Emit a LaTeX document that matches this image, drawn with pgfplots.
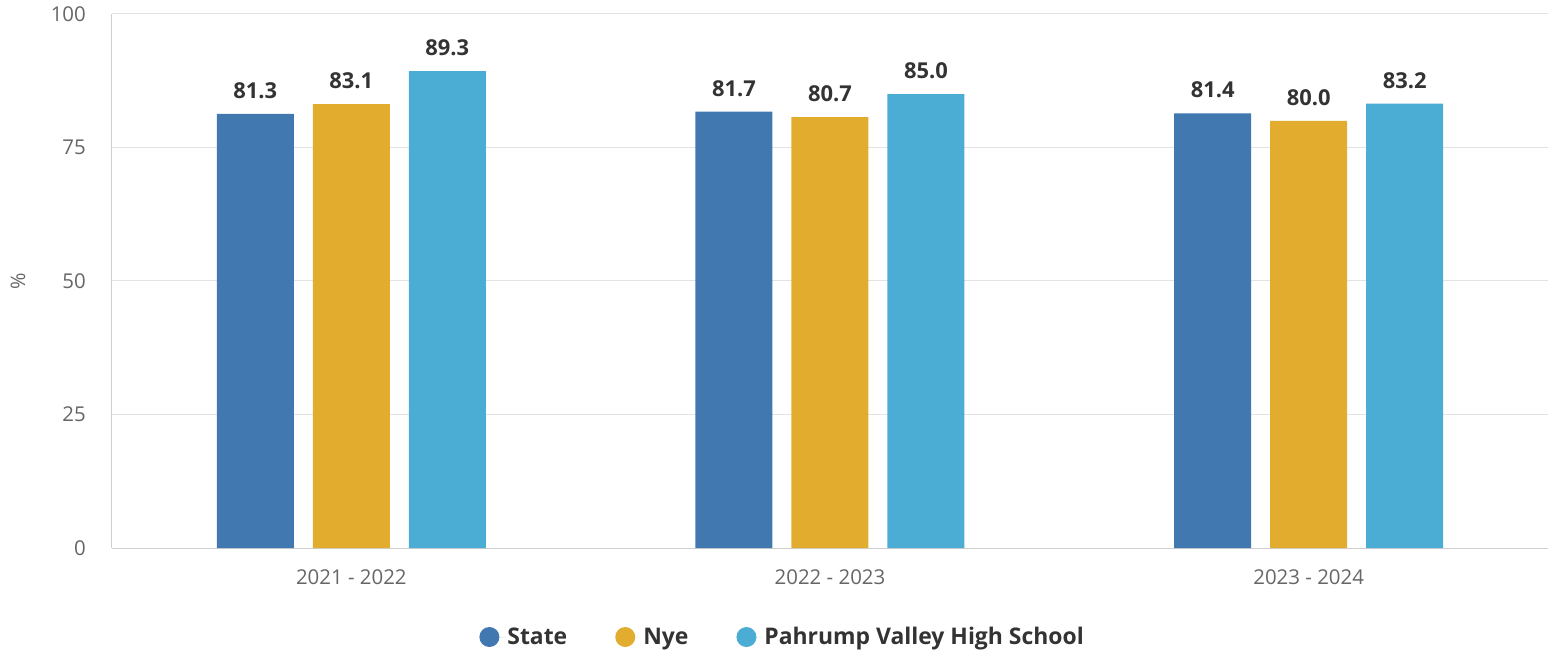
\documentclass[border=0pt]{standalone}
\usepackage{fontspec}
\setmainfont{Open Sans}
\usepackage{pgfplots}
\pgfplotsset{compat=1.18}
\definecolor{cState}{HTML}{4178B0}
\definecolor{cNye}{HTML}{E2AD2E}
\definecolor{cPVHS}{HTML}{4BADD4}
\definecolor{gridc}{HTML}{E3E3E3}
\definecolor{axisc}{HTML}{CFCFCF}
\definecolor{tickc}{HTML}{666666}
\definecolor{labc}{HTML}{333333}
\begin{document}
\begin{tikzpicture}
\path[use as bounding box] (-112bp,-106bp) rectangle (1441bp,548bp);
\begin{axis}[
    at={(0,0)}, anchor=south west,
    scale only axis,
    width=1436bp, height=534bp,
    ybar=19bp,
    bar width=77bp,
    xmin=-0.5, xmax=2.5,
    ymin=0, ymax=100,
    xtick={0,1,2},
    xticklabels={2021 - 2022, 2022 - 2023, 2023 - 2024},
    ytick={0,25,50,75,100},
    major tick length=0pt,
    axis x line*=bottom, axis y line*=left,
    axis line style={draw=axisc, line width=1bp, -},
    ymajorgrids,
    grid style={draw=gridc, line width=1bp},
    /pgf/number format/assume math mode=true,
    tick label style={font=\fontsize{20.5}{24}\selectfont, text=tickc},
    yticklabel style={inner sep=0pt, anchor=east, xshift=-26bp},
    xticklabel style={inner sep=0pt, anchor=north, yshift=-21bp},
    ylabel={\%},
    ylabel style={at={(axis description cs:-0.0654,0.5)}, anchor=center, font=\fontsize{20}{24}\selectfont, text=tickc},
    nodes near coords,
    nodes near coords style={font=\fontsize{22}{24}\selectfont\bfseries, text=labc, anchor=south, inner sep=0pt, yshift=15bp,
        /pgf/number format/.cd, fixed, fixed zerofill, precision=1, assume math mode=true},
    legend columns=3,
    legend style={at={(0.467,-0.1667)}, anchor=center, draw=none, fill=none,
        font=\fontsize{23}{26}\selectfont\bfseries, text=labc,
        /tikz/every even column/.append style={column sep=46bp}},
    legend image code/.code={\fill[#1, draw=none] (0bp,0bp) circle (10bp); \path (-10bp,0bp) -- (16bp,0bp);},
]
\addplot[fill=cState, draw=none] coordinates {(0,81.3) (1,81.7) (2,81.4)};
\addlegendentry{State}
\addplot[fill=cNye, draw=none] coordinates {(0,83.1) (1,80.7) (2,80.0)};
\addlegendentry{Nye}
\addplot[fill=cPVHS, draw=none] coordinates {(0,89.3) (1,85.0) (2,83.2)};
\addlegendentry{Pahrump Valley High School}
\end{axis}
\end{tikzpicture}
\end{document}
